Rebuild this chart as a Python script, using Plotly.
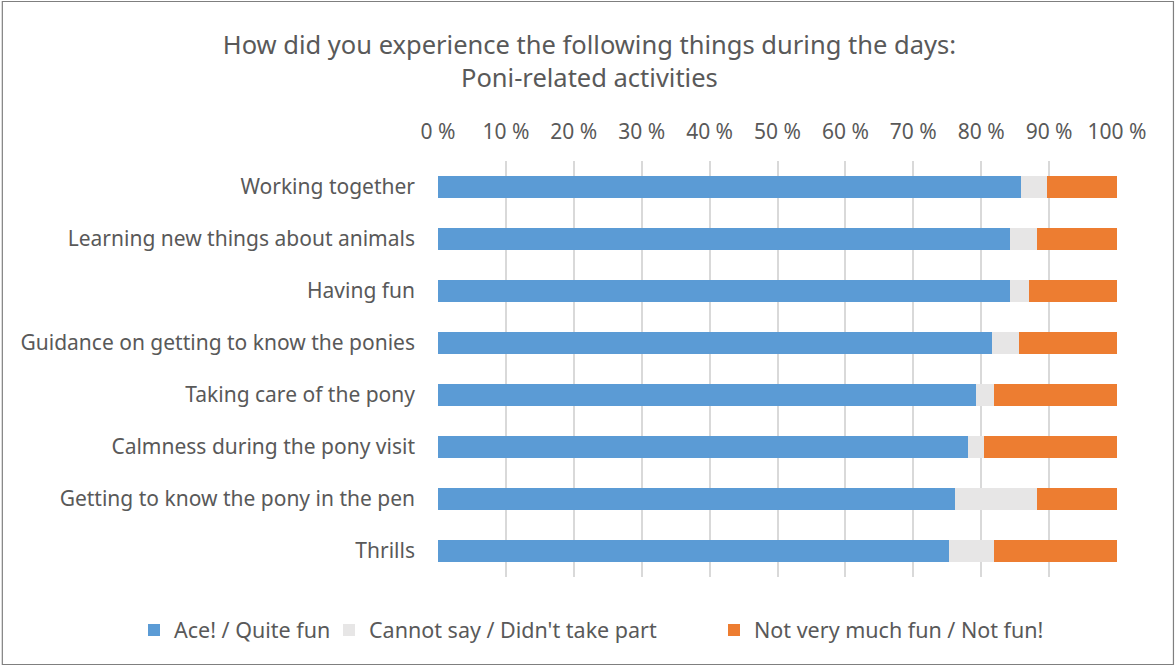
import plotly.graph_objects as go

categories = [
    "Working together",
    "Learning new things about animals",
    "Having fun",
    "Guidance on getting to know the ponies",
    "Taking care of the pony",
    "Calmness during the pony visit",
    "Getting to know the pony in the pen",
    "Thrills",
]
ace = [85.8, 84.3, 84.3, 81.6, 79.2, 78.0, 76.2, 75.3]
cannot_say = [3.9, 3.9, 2.7, 3.9, 2.7, 2.4, 12.0, 6.6]
not_fun = [10.3, 11.8, 13.0, 14.5, 18.1, 19.6, 11.8, 18.1]
series_names = ["Ace! / Quite fun", "Cannot say / Didn't take part", "Not very much fun / Not fun!"]
colors = ["#5B9BD5", "#E7E6E6", "#ED7D31"]
tick_vals = [0, 10, 20, 30, 40, 50, 60, 70, 80, 90, 100]
tick_text = [f"{v} %" for v in tick_vals]

font_family = "Noto Sans, Open Sans, sans-serif"
text_color = "#595959"

W, H = 1176, 666
L, R, T, B = 437.5, 59, 161, 89
pw, ph = W - L - R, H - T - B

def px2paper_x(px):
    return (px - L) / pw

def px2paper_y(py):
    return (H - B - py) / ph

legend_ids = ["legend", "legend2", "legend3"]
legend_square_x = [144, 339, 724]

fig = go.Figure()
for name, vals, col, lg in zip(series_names, [ace, cannot_say, not_fun], colors, legend_ids):
    fig.add_trace(go.Bar(
        y=categories, x=vals, name=name, orientation="h",
        marker=dict(color=col, line=dict(width=0)),
        legend=lg,
    ))

legend_common = dict(
    orientation="h", xref="container", yref="container", xanchor="left",
    yanchor="middle", y=(H - 630) / H,
    font=dict(size=21.5, color=text_color, family=font_family),
    itemwidth=30, bgcolor="rgba(0,0,0,0)",
)

layout_legends = {}
for lg, sx in zip(legend_ids, legend_square_x):
    d = dict(legend_common)
    d["x"] = (sx - 10) / W
    layout_legends[lg] = d

fig.update_layout(
    width=W, height=H,
    barmode="stack",
    bargap=0.59,
    margin=dict(l=L, r=R, t=T, b=B),
    paper_bgcolor="white", plot_bgcolor="white",
    font=dict(family=font_family, size=20, color=text_color),
    title=dict(
        text="How did you experience the following things during the days:<br>Poni-related activities",
        x=px2paper_x(589), xref="paper", xanchor="center",
        y=1 - 54 / H, yanchor="middle",
        font=dict(size=25.5, color=text_color, family=font_family),
    ),
    xaxis=dict(
        range=[0, 100], side="top", tickvals=tick_vals, ticktext=tick_text,
        showgrid=True, gridcolor="#D9D9D9", gridwidth=1.5,
        zeroline=False, showline=False, ticks="", ticklabelstandoff=17,
        tickfont=dict(size=21, color=text_color),
        fixedrange=True,
    ),
    yaxis=dict(
        categoryorder="array", categoryarray=categories[::-1],
        showgrid=False, zeroline=False, showline=False, ticks="",
        ticklabelstandoff=22,
        tickfont=dict(size=21, color=text_color),
    ),
    showlegend=True,
    **layout_legends,
)

fig.add_shape(
    type="rect", xref="paper", yref="paper",
    x0=px2paper_x(1.5), x1=px2paper_x(1173.5),
    y0=px2paper_y(664.5), y1=px2paper_y(1.5),
    line=dict(color="#7F7F7F", width=1.2), fillcolor="rgba(0,0,0,0)",
    layer="above",
)

fig.write_html("out.html")
